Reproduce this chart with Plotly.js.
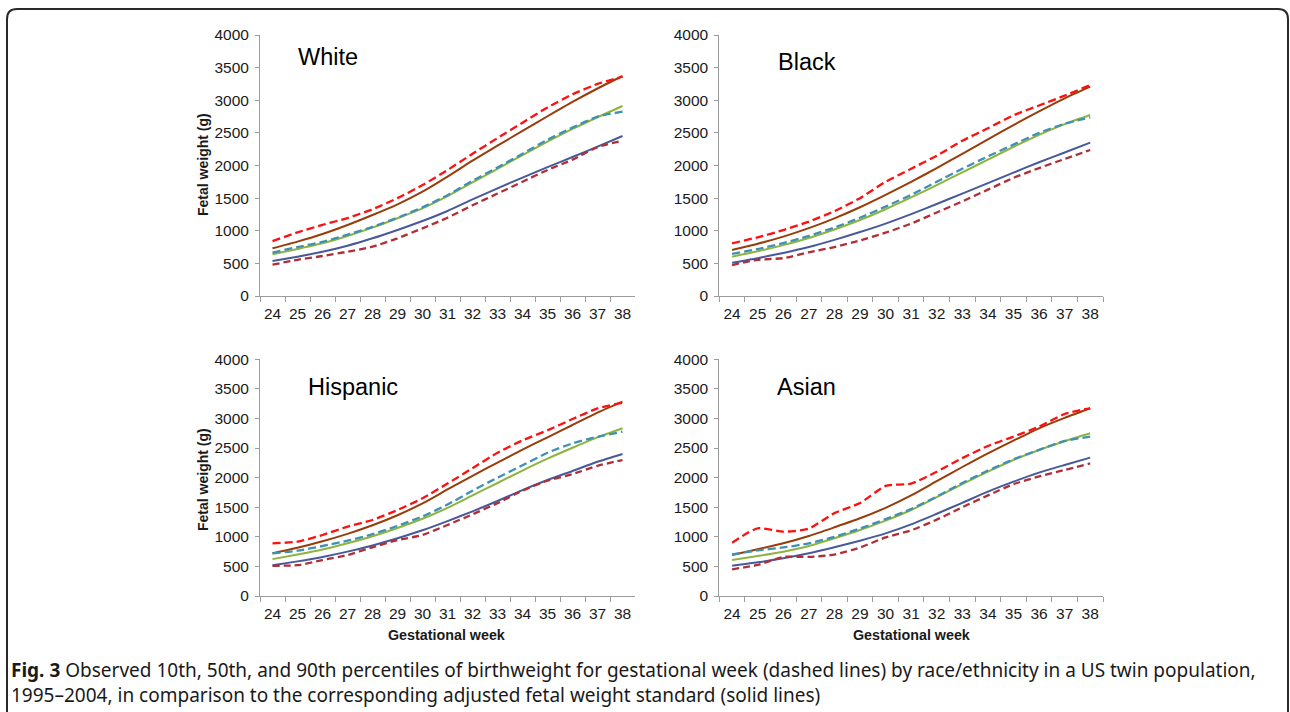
<!DOCTYPE html>
<html>
<head>
<meta charset="utf-8">
<script src="https://cdn.plot.ly/plotly-3.0.1.min.js"></script>
<style>
  html, body { margin: 0; padding: 0; background: #ffffff; }
  #chart { width: 1290px; height: 712px; }
</style>
</head>
<body>
<div id="chart"></div>
<script>
// ---------------- DATA ----------------
const weeks = ['24','25','26','27','28','29','30','31','32','33','34','35','36','37','38'];
const yTicks = [0, 500, 1000, 1500, 2000, 2500, 3000, 3500, 4000];
const panelNames = ['White', 'Black', 'Hispanic', 'Asian'];

// White
const whiteStd90 = [731, 833, 950, 1088, 1241, 1405, 1599, 1830, 2075, 2305, 2530, 2755, 2975, 3180, 3372];
const whiteStd50 = [639, 720, 807, 920, 1047, 1191, 1344, 1530, 1740, 1950, 2160, 2365, 2560, 2740, 2912];
const whiteStd10 = [536, 603, 679, 771, 884, 1012, 1149, 1303, 1480, 1650, 1815, 1975, 2130, 2290, 2452];
const whiteObs90 = [840, 975, 1090, 1195, 1330, 1500, 1700, 1930, 2180, 2420, 2656, 2890, 3090, 3250, 3360];
const whiteObs50 = [665, 750, 830, 940, 1060, 1200, 1360, 1545, 1765, 1970, 2180, 2395, 2580, 2750, 2825];
const whiteObs10 = [480, 555, 613, 679, 756, 884, 1037, 1200, 1390, 1570, 1752, 1931, 2090, 2280, 2380];

// Black
const blackStd90 = [705, 800, 910, 1040, 1190, 1360, 1550, 1750, 1960, 2180, 2400, 2620, 2830, 3030, 3208];
const blackStd50 = [603, 685, 780, 890, 1020, 1165, 1330, 1510, 1700, 1895, 2090, 2285, 2470, 2635, 2774];
const blackStd10 = [511, 580, 660, 750, 860, 980, 1110, 1255, 1410, 1570, 1730, 1890, 2050, 2200, 2350];
const blackObs90 = [807, 900, 1010, 1140, 1300, 1500, 1750, 1950, 2150, 2380, 2570, 2770, 2920, 3070, 3234];
const blackObs50 = [644, 720, 810, 920, 1050, 1200, 1370, 1550, 1750, 1950, 2140, 2320, 2500, 2640, 2738];
const blackObs10 = [475, 555, 580, 670, 750, 850, 970, 1110, 1280, 1450, 1630, 1810, 1960, 2100, 2238];

// Hispanic
const hispStd90 = [721, 815, 925, 1050, 1195, 1365, 1565, 1800, 2030, 2255, 2473, 2682, 2890, 3098, 3284];
const hispStd50 = [623, 700, 785, 890, 1010, 1150, 1305, 1490, 1700, 1910, 2120, 2320, 2505, 2680, 2834];
const hispStd10 = [518, 585, 660, 750, 855, 975, 1110, 1265, 1430, 1605, 1790, 1960, 2113, 2268, 2400];
const hispObs90 = [890, 918, 1031, 1172, 1284, 1453, 1651, 1900, 2160, 2420, 2630, 2800, 2990, 3170, 3267];
const hispObs50 = [721, 765, 845, 935, 1045, 1185, 1345, 1545, 1780, 2000, 2210, 2420, 2580, 2690, 2777];
const hispObs10 = [510, 521, 608, 693, 823, 945, 1031, 1200, 1380, 1570, 1780, 1950, 2060, 2200, 2298];

// Asian
const asianStd90 = [693, 789, 890, 1014, 1161, 1313, 1490, 1700, 1940, 2180, 2411, 2625, 2834, 3010, 3172];
const asianStd50 = [608, 676, 749, 845, 975, 1115, 1273, 1453, 1670, 1890, 2101, 2299, 2468, 2615, 2749];
const asianStd10 = [512, 569, 637, 721, 823, 935, 1059, 1211, 1390, 1575, 1763, 1932, 2085, 2214, 2338];
const asianObs90 = [901, 1144, 1087, 1140, 1400, 1570, 1860, 1900, 2100, 2330, 2535, 2693, 2862, 3076, 3172];
const asianObs50 = [704, 770, 820, 890, 1000, 1140, 1300, 1470, 1680, 1910, 2120, 2310, 2470, 2620, 2693];
const asianObs10 = [451, 524, 660, 660, 700, 820, 990, 1110, 1290, 1500, 1700, 1890, 2020, 2130, 2240];

const captionLine1 = '<b>Fig. 3</b> Observed 10th, 50th, and 90th percentiles of birthweight for gestational week (dashed lines) by race/ethnicity in a US twin population,';
const captionLine2 = '1995–2004, in comparison to the corresponding adjusted fetal weight standard (solid lines)';

// ---------------- STYLE / LAYOUT ----------------
const W = 1290, H = 712;
const px = x => x / W;
const py = y => 1 - y / H;

const colStd90 = '#983C0A', colStd50 = '#8DB43E', colStd10 = '#48599A';
const colObs90 = '#FF1010', colObs50 = '#3F90B2', colObs10 = '#B22E36';

const panels = [
  {name: panelNames[0], std: [whiteStd90, whiteStd50, whiteStd10], obs: [whiteObs90, whiteObs50, whiteObs10]},
  {name: panelNames[1], std: [blackStd90, blackStd50, blackStd10], obs: [blackObs90, blackObs50, blackObs10]},
  {name: panelNames[2], std: [hispStd90, hispStd50, hispStd10], obs: [hispObs90, hispObs50, hispObs10]},
  {name: panelNames[3], std: [asianStd90, asianStd50, asianStd10], obs: [asianObs90, asianObs50, asianObs10]}
];

const stdColors = [colStd90, colStd50, colStd10];
const obsColors = [colObs90, colObs50, colObs10];
const obsDash = ['8px,4px', '8px,4px', '7px,4px'];

const traces = [];
panels.forEach((p, i) => {
  const xa = i === 0 ? 'x' : 'x' + (i + 1);
  const ya = i === 0 ? 'y' : 'y' + (i + 1);
  p.std.forEach((vals, k) => {
    traces.push({type: 'scatter', mode: 'lines', x: weeks, y: vals, xaxis: xa, yaxis: ya,
      line: {color: stdColors[k], width: 2, shape: 'spline', smoothing: 0.6}, hoverinfo: 'skip'});
  });
  p.obs.forEach((vals, k) => {
    traces.push({type: 'scatter', mode: 'lines', x: weeks, y: vals, xaxis: xa, yaxis: ya,
      line: {color: obsColors[k], width: 2.3, dash: obsDash[k], shape: 'spline', smoothing: 0.6}, hoverinfo: 'skip'});
  });
});

const tickFont = {family: 'Liberation Sans, Arial, sans-serif', size: 15.5, color: '#1a1a1a'};
const axisLine = '#9c9c9c';

function xAxis(domain, anchor) {
  return {domain: domain, anchor: anchor, type: 'category', tickson: 'boundaries',
    range: [-0.5, 14.5], ticks: 'outside', ticklen: 5, tickcolor: axisLine, tickwidth: 1,
    showline: true, linecolor: axisLine, linewidth: 1, showgrid: false, zeroline: false,
    tickangle: 0, tickfont: tickFont, ticklabelstandoff: 3, fixedrange: true};
}
function yAxis(domain, anchor) {
  return {domain: domain, anchor: anchor, range: [0, 4000], tickvals: yTicks,
    ticks: 'outside', ticklen: 4, tickcolor: axisLine, tickwidth: 1,
    showline: true, linecolor: axisLine, linewidth: 1, showgrid: false, zeroline: false,
    tickfont: tickFont, ticklabelstandoff: 3, fixedrange: true};
}

const xL = [px(260), px(635)], xR = [px(719.3), px(1103)];
const yT = [py(296), py(35)], yB = [py(596), py(359.3)];

const boldFont = {family: 'Liberation Sans, Arial, sans-serif', size: 14, color: '#1a1a1a'};
const nameFont = {family: 'Liberation Sans, Arial, sans-serif', size: 23.5, color: '#000000'};
const capFont = {family: 'Noto Sans, DejaVu Sans, sans-serif', size: 19, color: '#1a1a1a'};

const annotations = [
  {text: '<b>Fetal weight (g)</b>', x: px(203), y: py(165), textangle: -90, font: boldFont},
  {text: '<b>Fetal weight (g)</b>', x: px(203), y: py(480), textangle: -90, font: boldFont},
  {text: '<b>Gestational week</b>', x: px(446), y: py(635), font: {...boldFont, size: 14.3}},
  {text: '<b>Gestational week</b>', x: px(911), y: py(635), font: {...boldFont, size: 14.3}},
  {text: panels[0].name, x: px(296), y: py(57), xanchor: 'left', font: nameFont},
  {text: panels[1].name, x: px(776), y: py(62), xanchor: 'left', font: nameFont},
  {text: panels[2].name, x: px(306), y: py(387), xanchor: 'left', font: nameFont},
  {text: panels[3].name, x: px(775), y: py(387), xanchor: 'left', font: nameFont},
  {text: captionLine1 + '<br>' + captionLine2, x: px(9), y: py(682), xanchor: 'left', align: 'left', font: capFont}
].map(a => Object.assign({xref: 'paper', yref: 'paper', showarrow: false, yanchor: 'middle',
  xanchor: a.xanchor || 'center'}, a));

// rounded border (top + sides)
const r = 10;
const borderPath = 'M ' + px(7) + ',' + py(712) + ' L ' + px(7) + ',' + py(9 + r) +
  ' Q ' + px(7) + ',' + py(9) + ' ' + px(7 + r) + ',' + py(9) +
  ' L ' + px(1288 - r) + ',' + py(9) +
  ' Q ' + px(1288) + ',' + py(9) + ' ' + px(1288) + ',' + py(9 + r) +
  ' L ' + px(1288) + ',' + py(712);

const layout = {
  width: W, height: H, margin: {l: 0, r: 0, t: 0, b: 0},
  paper_bgcolor: '#ffffff', plot_bgcolor: 'rgba(0,0,0,0)',
  showlegend: false,
  xaxis: xAxis(xL, 'y'), yaxis: yAxis(yT, 'x'),
  xaxis2: xAxis(xR, 'y2'), yaxis2: yAxis(yT, 'x2'),
  xaxis3: xAxis(xL, 'y3'), yaxis3: yAxis(yB, 'x3'),
  xaxis4: xAxis(xR, 'y4'), yaxis4: yAxis(yB, 'x4'),
  annotations: annotations,
  shapes: [{type: 'path', xref: 'paper', yref: 'paper', path: borderPath,
    line: {color: '#2a2a2a', width: 2}}]
};

Plotly.newPlot('chart', traces, layout, {displayModeBar: false, staticPlot: true});
</script>
</body>
</html>
